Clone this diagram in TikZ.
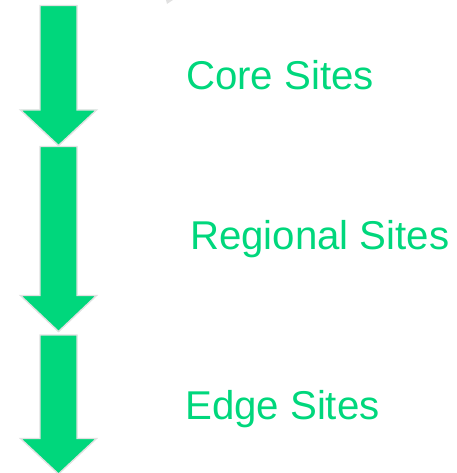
\documentclass[tikz,border=0pt]{standalone}
\usepackage{fontspec}
\setmainfont{Liberation Sans}
\definecolor{sitegreen}{RGB}{0,215,124}
\definecolor{rimgrey}{RGB}{225,225,225}
\tikzset{
  flowarrow/.style={fill=sitegreen, draw=rimgrey, line width=1.4pt, line join=miter},
  sitelabel/.style={anchor=base west, inner sep=0pt, text=sitegreen,
    font=\fontsize{40.2}{45}\selectfont}
}
% a downward block arrow: shaft left/right, top, head base, head left/right, tip
\newcommand{\blockarrow}[7]{%
  \draw[flowarrow] (#1,#3) -- (#2,#3) -- (#2,#4) -- (#6,#4) -- (58.5,#7)
    -- (#5,#4) -- (#1,#4) -- cycle;}
\begin{document}
\begin{tikzpicture}[x=1pt,y=-1pt]
  \useasboundingbox (0,0) rectangle (456,473);
  % small fragment at the top edge
  \fill[rimgrey] (166,0) -- (173,0) -- (167,4) -- cycle;
  % three stacked arrows
  \blockarrow{40}{77}{5.5}{110}{20.5}{96.5}{145.5}
  \blockarrow{40}{77}{146.5}{295.5}{20.5}{96.5}{331.5}
  \blockarrow{40}{77}{335}{438.5}{20.5}{96.5}{474}
  % labels
  \node[sitelabel] (core) at (186,89.5) {Core Sites};
  \node[sitelabel] (regional) at (190,249.5) {Regional Sites};
  \node[sitelabel] (edge) at (185,419.5) {Edge Sites};
\end{tikzpicture}
\end{document}
